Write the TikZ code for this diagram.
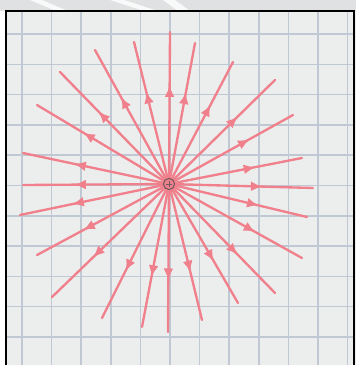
\documentclass[tikz,border=0pt]{standalone}
\usepackage{tikz}
\usetikzlibrary{arrows.meta,decorations.markings}
\definecolor{paper}{RGB}{236,238,238}
\definecolor{stripgray}{RGB}{224,225,227}
\definecolor{gridblue}{RGB}{192,200,212}
\definecolor{fieldred}{RGB}{240,128,140}
\definecolor{chargegray}{RGB}{115,88,94}

\tikzset{
  gridline/.style={draw=gridblue,line width=1.3pt},
  fieldline/.style={color=fieldred,line width=2pt,line cap=round,
    postaction={decorate},
    decoration={markings,mark=at position 0.65 with {\arrow{Latex[length=10pt,width=8.5pt]}}}},
  charge/.style={circle,draw=chargegray,line width=0.9pt,inner sep=0pt,minimum size=9.5pt}
}

\begin{document}
\begin{tikzpicture}[x=0.03cm,y=-0.03cm]
\useasboundingbox (0,0) rectangle (356,365);
% photo strip on top
\fill[stripgray] (0,0) rectangle (356,11);
\fill[white,opacity=0.8] (30,0) -- (42,0) -- (68,11) -- (56,11) -- cycle;
\fill[white,opacity=0.8] (110,0) -- (124,0) -- (158,11) -- (144,11) -- cycle;
\fill[white,opacity=0.8] (163,0) -- (175,0) -- (190,11) -- (178,11) -- cycle;
% paper and squares
\fill[paper] (6,11) rectangle (356,365);
\foreach \gx in {0,...,11}
  \draw[gridline] ({22+29.6*\gx},11) -- ({22+29.6*\gx},365);
\foreach \gy in {0,...,10}
  \draw[gridline] (6,{34+30.3*\gy}) -- (354,{34+30.3*\gy});
\draw[black,line width=1.6pt] (6,365) -- (6,11) -- (354,11) -- (354,365);

% field lines of the point charge
\coordinate (q) at (169,184);
\foreach \ex/\ey in {170/32,134/42,195/43,95/50,233/62,60/72,275/80,37/105,
  293/115,23/153,302/158,23/185,313/188,20/215,307/217,37/255,302/258,
  52/297,275/293,102/318,238/303,142/327,202/320,168/332}
  \draw[fieldline] (q) -- (\ex,\ey);

% the charge
\node[charge] (plus) at (q) {};
\draw[chargegray,line width=0.6pt] ([xshift=-2.5pt]plus.center) -- ([xshift=2.5pt]plus.center);
\draw[chargegray,line width=0.6pt] ([yshift=-2.5pt]plus.center) -- ([yshift=2.5pt]plus.center);
\end{tikzpicture}
\end{document}
